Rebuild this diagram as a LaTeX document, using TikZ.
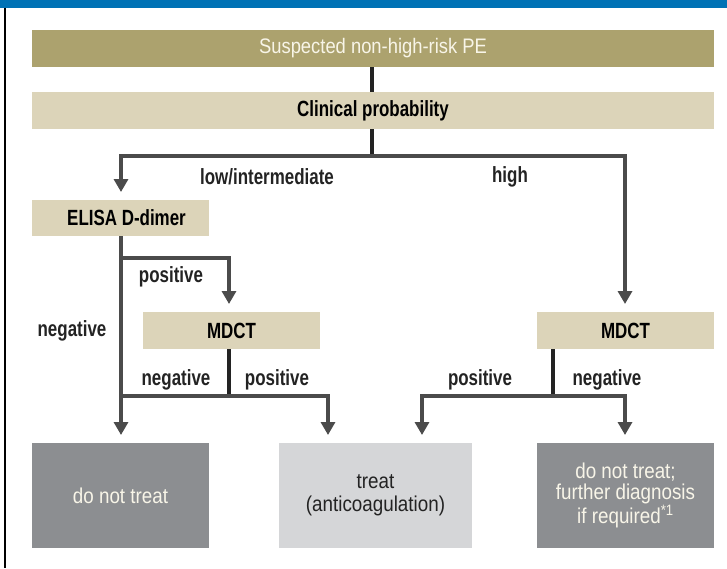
\documentclass[tikz,border=0pt]{standalone}
\usepackage{fontspec}
\setmainfont[FakeStretch=0.875]{Liberation Sans}
\newfontfamily\bcond[FakeStretch=0.77]{Liberation Sans Bold}
\usetikzlibrary{arrows.meta}
\definecolor{topblue}{RGB}{0,114,181}
\definecolor{olive}{RGB}{172,162,110}
\definecolor{beige}{RGB}{220,212,185}
\definecolor{darkgrey}{RGB}{140,142,145}
\definecolor{lightgrey}{RGB}{213,214,216}
\definecolor{linegrey}{RGB}{75,75,75}
\definecolor{stemblack}{RGB}{35,35,35}
\definecolor{offwhite}{RGB}{248,245,232}
\tikzset{
  boxbase/.style={inner sep=0pt, outer sep=0pt, align=center},
  headbox/.style={boxbase, fill=olive, text=offwhite, minimum width=682pt, minimum height=37pt,
    font=\fontsize{21}{26}\selectfont},
  probbox/.style={boxbase, fill=beige, text=black, minimum height=37pt,
    font=\bcond\fontsize{22}{24}\selectfont},
  outdark/.style={boxbase, fill=darkgrey, text=offwhite, minimum height=105pt,
    font=\fontsize{21.5}{21}\selectfont},
  outlight/.style={boxbase, fill=lightgrey, text=stemblack, minimum height=105pt,
    font=\fontsize{21.5}{23}\selectfont},
  lbl/.style={inner sep=0pt, text=stemblack, font=\bcond\fontsize{22}{24}\selectfont},
  conn/.style={draw=linegrey, line width=3.2pt},
  arr/.style={conn, -{Triangle[length=13pt,width=14pt]}, shorten >=8pt},
  stem/.style={draw=stemblack, line width=3.4pt}
}
\begin{document}
\begin{tikzpicture}[x=1pt,y=-1pt]
\useasboundingbox (0,0) rectangle (727,568);
\fill[white] (0,0) rectangle (727,568);
\fill[topblue] (0,0) rectangle (727,7.5);
\draw[black, line width=2pt] (5,7.5) -- (5,568);

% boxes
\node[headbox] (s) at (373,48.5) {Suspected non-high-risk PE};
\node[probbox, minimum width=682pt] (c) at (373,110.5) {Clinical probability};
\node[probbox, minimum width=177pt, minimum height=36pt] (e) at (120.5,218) {\hspace*{12pt}ELISA D-dimer};
\node[probbox, minimum width=177pt] (m1) at (231.5,330.5) {MDCT};
\node[probbox, minimum width=177pt] (m2) at (625.5,330.5) {MDCT};
\node[outdark, minimum width=177pt] (o1) at (120.5,495.5) {do not treat};
\node[outlight, minimum width=193pt] (o2) at (375.5,495.5) {treat\\(anticoagulation)};
\node[outdark, minimum width=177pt] (o3) at (625.5,495.5) {do not treat;\\further diagnosis\\if required\textsuperscript{*1}};

% junction coordinates
\coordinate (j1) at (372,156);
\coordinate (jl) at (121,156);
\coordinate (jr) at (625,156);
\coordinate (ep) at (121,258);
\coordinate (epr) at (229,258);
\coordinate (k1) at (229,396);
\coordinate (k1l) at (121,396);
\coordinate (k1r) at (328,396);
\coordinate (k2) at (553,396);
\coordinate (k2l) at (422,396);
\coordinate (k2r) at (625,396);

% connectors
\draw[stem] (s.south -| j1) -- (c.north -| j1);
\draw[stem] (c.south -| j1) -- (j1);
\draw[arr] (j1) -- (jl) -- (e.north -| jl);
\draw[arr] (j1) -- (jr) -- (m2.north -| jr);
\draw[arr] (e.south -| jl) -- (o1.north -| jl);
\draw[arr] (ep) -- (epr) -- (m1.north -| epr);
\draw[stem] (m1.south -| k1) -- (k1);
\draw[conn] (k1) -- (k1l);
\draw[arr] (k1) -- (k1r) -- (o2.north -| k1r);
\draw[stem] (m2.south -| k2) -- (k2);
\draw[arr] (k2) -- (k2l) -- (o2.north -| k2l);
\draw[arr] (k2) -- (k2r) -- (o3.north -| k2r);

% labels
\node[lbl] (l1) at (267,177) {low/intermediate};
\node[lbl] (l2) at (510,177) {high};
\node[lbl] (l3) at (171,277) {positive};
\node[lbl] (l4) at (72,331) {negative};
\node[lbl] (l5) at (176,380) {negative};
\node[lbl] (l6) at (277,380) {positive};
\node[lbl] (l7) at (480,380) {positive};
\node[lbl] (l8) at (607,380) {negative};
\end{tikzpicture}
\end{document}
